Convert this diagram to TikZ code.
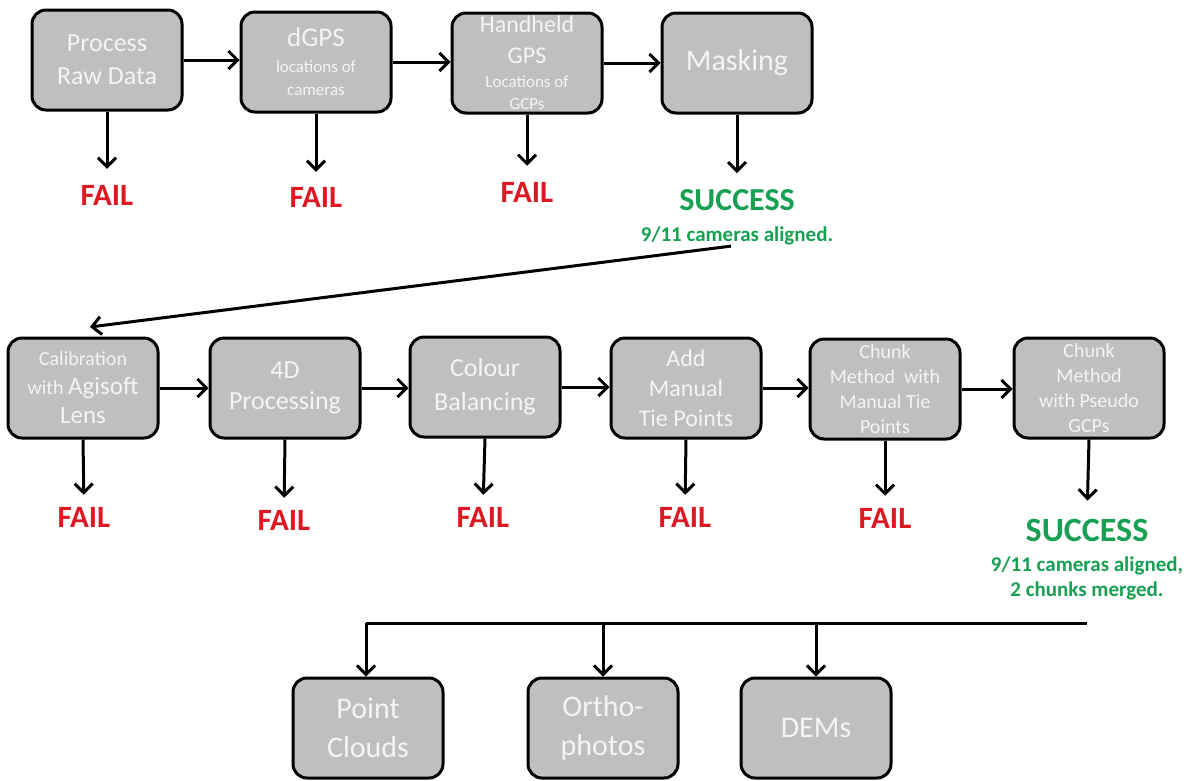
\documentclass[tikz,border=0pt]{standalone}
\usepackage{fontspec}
\setmainfont{Carlito}
\usetikzlibrary{arrows.meta,calc}
\definecolor{boxfill}{RGB}{191,191,191}
\definecolor{boxtext}{RGB}{244,244,244}
\definecolor{failred}{RGB}{220,24,34}
\definecolor{okgreen}{RGB}{24,160,82}
\newcommand{\fsz}[2]{\fontsize{#1}{#2}\selectfont}
\begin{document}
\begin{tikzpicture}[x=1pt,y=-1pt,
  stage/.style={draw=black, line width=3pt, fill=boxfill, rounded corners=14pt,
    minimum width=150pt, minimum height=100pt, inner sep=0pt, align=center, text=boxtext},
  fail/.style={text=failred, font=\bfseries\fsz{31}{31}, inner sep=0pt},
  ok/.style={text=okgreen, font=\bfseries\fsz{32}{32}, inner sep=0pt},
  note/.style={text=okgreen, font=\bfseries\fsz{21}{25}, inner sep=0pt, align=center},
  link/.style={line width=3pt, -{Straight Barb[length=9pt,width=18pt]}},
  bus/.style={line width=3pt},
]
\useasboundingbox (0,0) rectangle (1188,780);
\fill[white] (0,0) rectangle (1188,780);

% top row
\node[stage, font=\fsz{26}{33}] (b1) at (107,60) {Process\\Raw Data};
\node[stage, font=\fsz{17}{23}] (b2) at (316,62) {\fsz{27}{23}dGPS\\[3pt]\fsz{17}{23}locations of\\\fsz{17}{23}cameras};
\node[stage, font=\fsz{17}{22}] (b3) at (527,63) {\fsz{24}{22}Handheld\\[9pt]\fsz{24}{22}GPS\\[2pt]\fsz{17}{22}Locations of\\\fsz{17}{22}GCPs};
\node[stage, font=\fsz{30}{36}] (b4) at (737,63) {Masking};

\node[fail] (f1) at (107,195) {FAIL};
\node[fail] (f2) at (316,197) {FAIL};
\node[fail] (f3) at (527,192) {FAIL};
\node[ok] (s1) at (737,200) {SUCCESS};
\node[note] (n1) at (737,236) {9/11 cameras aligned.};

% middle row
\node[stage, font=\fsz{20}{29}] (b5) at (83,388) {\fsz{20}{29}Calibration\\\fsz{20}{29}with \fsz{25}{29}Agisoft\\\fsz{25}{29}Lens};
\node[stage, font=\fsz{26}{31}] (b6) at (285,388) {4D\\Processing};
\node[stage, font=\fsz{26}{34}] (b7) at (485,387) {Colour\\Balancing};
\node[stage, font=\fsz{24}{30}] (b8) at (686,388) {Add\\Manual\\Tie Points};
\node[stage, font=\fsz{20}{25}] (b9) at (885,389) {Chunk\\Method~ with\\Manual Tie\\Points};
\node[stage, font=\fsz{20}{25}] (b10) at (1089,388) {Chunk\\Method\\with Pseudo\\GCPs};

\node[fail] (f5) at (84,517) {FAIL};
\node[fail] (f6) at (284,520) {FAIL};
\node[fail] (f7) at (483,517) {FAIL};
\node[fail] (f8) at (685,517) {FAIL};
\node[fail] (f9) at (885,518) {FAIL};
\node[ok, font=\bfseries\fsz{34}{34}] (s2) at (1087,530) {SUCCESS};
\node[note] (n2) at (1087,578) {9/11 cameras aligned,\\2 chunks merged.};

% bottom row
\node[stage, font=\fsz{30}{39}] (o1) at (368,728) {Point\\Clouds};
\node[stage, font=\fsz{30}{39}] (o2) at (603,728) {Ortho-\\photos};
\node[stage, font=\fsz{30}{39}] (o3) at (816,728) {DEMs};

% horizontal links
\draw[link] (b1.east) -- (b1.east -| b2.west);
\draw[link] (b2.east) -- (b2.east -| b3.west);
\draw[link] (b3.east) -- (b3.east -| b4.west);
\draw[link] (b5.east) -- (b5.east -| b6.west);
\draw[link] (b6.east) -- (b6.east -| b7.west);
\draw[link] (b7.east) -- (b7.east -| b8.west);
\draw[link] (b8.east) -- (b8.east -| b9.west);
\draw[link] (b9.east) -- (b9.east -| b10.west);

% down links
\draw[link, shorten >=16pt] (b1.south) -- (f1.north);
\draw[link, shorten >=15pt] (b2.south) -- (f2.north);
\draw[link, shorten >=16pt] (b3.south) -- (f3.north);
\draw[link, shorten >=16pt] (b4.south) -- (s1.north);
\draw[link, shorten >=12pt] (b5.south) -- (f5.north);
\draw[link, shorten >=12pt] (b6.south) -- (f6.north);
\draw[link, shorten >=12pt] (b7.south) -- (f7.north);
\draw[link, shorten >=12pt] (b8.south) -- (f8.north);
\draw[link, shorten >=12pt] (b9.south) -- (f9.north);
\draw[link, shorten >=18pt] (b10.south) -- (s2.north);

% return link
\coordinate (ret) at (90,327);
\draw[link, shorten <=6pt] (n1.south) -- (ret);

% output bus
\coordinate (busR) at (1087,623);
\coordinate (busL) at (366,623);
\draw[bus] (busR) -- (busL);
\draw[link] (busL) -- (busL |- o1.north);
\draw[link] (o2.north |- busR) -- (o2.north);
\draw[link] (o3.north |- busR) -- (o3.north);
\end{tikzpicture}
\end{document}
